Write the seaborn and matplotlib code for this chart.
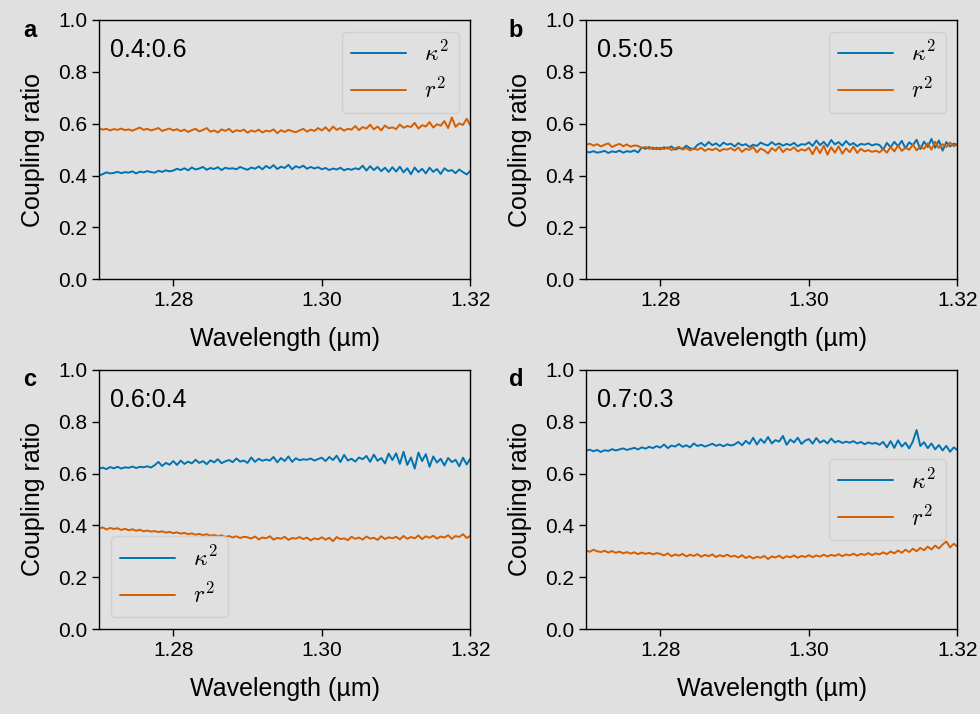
import matplotlib
matplotlib.use('Agg')
import numpy as np
import matplotlib.pyplot as plt
import seaborn as sns

# wavelength grid (um), 1.27 .. 1.32 in 0.0005 steps
wavelength = np.linspace(1.27, 1.32, 101)

# panel a, 0.4:0.6
a_kappa = [0.400, 0.405, 0.412, 0.408, 0.410, 0.414, 0.409, 0.413, 0.411, 0.416, 0.408, 0.415, 0.412, 0.417, 0.413, 0.411, 0.418, 0.414, 0.420, 0.416,
           0.419, 0.426, 0.421, 0.428, 0.420, 0.431, 0.423, 0.427, 0.433, 0.422, 0.429, 0.425, 0.432, 0.421, 0.430, 0.426, 0.428, 0.424, 0.433, 0.427,
           0.422, 0.431, 0.426, 0.435, 0.424, 0.437, 0.428, 0.440, 0.425, 0.434, 0.429, 0.441, 0.424, 0.436, 0.430, 0.438, 0.426, 0.433, 0.427, 0.432,
           0.424, 0.429, 0.421, 0.427, 0.423, 0.430, 0.420, 0.426, 0.422, 0.428, 0.424, 0.438, 0.419, 0.436, 0.421, 0.433, 0.417, 0.430, 0.414, 0.432,
           0.415, 0.434, 0.412, 0.428, 0.405, 0.431, 0.413, 0.426, 0.408, 0.430, 0.414, 0.425, 0.406, 0.428, 0.417, 0.421, 0.409, 0.423, 0.413, 0.404, 0.418]
a_r = [0.582, 0.577, 0.580, 0.574, 0.579, 0.576, 0.581, 0.575, 0.578, 0.573, 0.579, 0.585, 0.576, 0.580, 0.574, 0.578, 0.583, 0.572, 0.577, 0.581,
       0.574, 0.579, 0.571, 0.577, 0.568, 0.575, 0.580, 0.570, 0.576, 0.583, 0.569, 0.574, 0.566, 0.578, 0.572, 0.580, 0.567, 0.575, 0.571, 0.577,
       0.565, 0.574, 0.569, 0.577, 0.566, 0.573, 0.570, 0.578, 0.563, 0.575, 0.568, 0.576, 0.571, 0.567, 0.574, 0.580, 0.569, 0.577, 0.572, 0.583,
       0.574, 0.586, 0.571, 0.589, 0.576, 0.583, 0.573, 0.580, 0.577, 0.591, 0.575, 0.587, 0.581, 0.596, 0.578, 0.589, 0.574, 0.593, 0.582, 0.586,
       0.579, 0.597, 0.584, 0.591, 0.587, 0.603, 0.581, 0.594, 0.589, 0.606, 0.585, 0.598, 0.592, 0.610, 0.583, 0.624, 0.588, 0.601, 0.595, 0.619, 0.593]

# panel b, 0.5:0.5
b_kappa = [0.492, 0.489, 0.494, 0.488, 0.491, 0.495, 0.487, 0.493, 0.490, 0.496, 0.488, 0.494, 0.491, 0.497, 0.489, 0.508, 0.503, 0.510, 0.502, 0.507,
           0.501, 0.509, 0.504, 0.512, 0.500, 0.506, 0.503, 0.515, 0.505, 0.502, 0.518, 0.526, 0.514, 0.529, 0.517, 0.524, 0.513, 0.527, 0.519, 0.523,
           0.512, 0.525, 0.516, 0.521, 0.510, 0.519, 0.514, 0.527, 0.520, 0.516, 0.529, 0.518, 0.524, 0.515, 0.522, 0.517, 0.526, 0.513, 0.521, 0.519,
           0.528, 0.514, 0.535, 0.517, 0.530, 0.512, 0.537, 0.520, 0.529, 0.515, 0.533, 0.518, 0.525, 0.513, 0.522, 0.519, 0.524, 0.516, 0.521, 0.518,
           0.500, 0.526, 0.509, 0.530, 0.513, 0.534, 0.505, 0.528, 0.517, 0.538, 0.502, 0.531, 0.510, 0.541, 0.507, 0.535, 0.496, 0.529, 0.512, 0.523, 0.518]
b_r = [0.518, 0.523, 0.515, 0.521, 0.512, 0.519, 0.524, 0.510, 0.517, 0.522, 0.513, 0.520, 0.511, 0.516, 0.514, 0.506, 0.510, 0.503, 0.508, 0.501,
       0.507, 0.502, 0.509, 0.498, 0.505, 0.511, 0.500, 0.506, 0.497, 0.504, 0.499, 0.507, 0.495, 0.503, 0.498, 0.505, 0.494, 0.502, 0.500, 0.506,
       0.496, 0.508, 0.491, 0.503, 0.499, 0.510, 0.489, 0.504, 0.497, 0.485, 0.506, 0.495, 0.512, 0.490, 0.503, 0.498, 0.509, 0.493, 0.501, 0.496,
       0.507, 0.482, 0.511, 0.486, 0.515, 0.480, 0.509, 0.488, 0.513, 0.484, 0.505, 0.490, 0.512, 0.487, 0.503, 0.493, 0.498, 0.491, 0.496, 0.489,
       0.502, 0.488, 0.510, 0.493, 0.516, 0.495, 0.508, 0.499, 0.519, 0.497, 0.512, 0.503, 0.524, 0.500, 0.530, 0.506, 0.521, 0.510, 0.527, 0.513, 0.519]

# panel c, 0.6:0.4
c_kappa = [0.618, 0.623, 0.617, 0.625, 0.620, 0.626, 0.619, 0.624, 0.622, 0.627, 0.621, 0.626, 0.624, 0.628, 0.623, 0.632, 0.645, 0.629, 0.641, 0.634,
           0.648, 0.633, 0.650, 0.637, 0.646, 0.639, 0.653, 0.641, 0.648, 0.636, 0.651, 0.643, 0.655, 0.640, 0.647, 0.652, 0.644, 0.658, 0.646, 0.650,
           0.641, 0.662, 0.645, 0.657, 0.649, 0.654, 0.650, 0.664, 0.643, 0.660, 0.648, 0.666, 0.645, 0.659, 0.651, 0.655, 0.653, 0.658, 0.650, 0.656,
           0.661, 0.648, 0.664, 0.652, 0.669, 0.644, 0.672, 0.650, 0.657, 0.646, 0.662, 0.655, 0.668, 0.645, 0.673, 0.649, 0.660, 0.639, 0.677, 0.652,
           0.678, 0.637, 0.684, 0.633, 0.662, 0.619, 0.681, 0.648, 0.675, 0.626, 0.666, 0.642, 0.657, 0.631, 0.660, 0.644, 0.653, 0.628, 0.661, 0.635, 0.658]
c_r = [0.388, 0.392, 0.384, 0.390, 0.386, 0.389, 0.382, 0.387, 0.381, 0.385, 0.379, 0.383, 0.377, 0.380, 0.376, 0.378, 0.374, 0.377, 0.372, 0.375,
       0.370, 0.373, 0.368, 0.371, 0.366, 0.369, 0.364, 0.367, 0.362, 0.366, 0.360, 0.363, 0.358, 0.362, 0.355, 0.359, 0.353, 0.358, 0.351, 0.356,
       0.354, 0.349, 0.357, 0.346, 0.353, 0.350, 0.358, 0.345, 0.352, 0.348, 0.356, 0.344, 0.351, 0.349, 0.355, 0.347, 0.353, 0.342, 0.350, 0.346,
       0.354, 0.345, 0.352, 0.339, 0.355, 0.347, 0.350, 0.343, 0.356, 0.348, 0.353, 0.345, 0.357, 0.349, 0.352, 0.344, 0.358, 0.347, 0.354, 0.350,
       0.356, 0.346, 0.359, 0.348, 0.355, 0.350, 0.361, 0.347, 0.358, 0.352, 0.360, 0.349, 0.357, 0.353, 0.362, 0.348, 0.359, 0.355, 0.366, 0.351, 0.360]

# panel d, 0.7:0.3
d_kappa = [0.688, 0.692, 0.686, 0.691, 0.683, 0.690, 0.687, 0.694, 0.689, 0.693, 0.697, 0.691, 0.695, 0.699, 0.693, 0.701, 0.696, 0.703, 0.698, 0.706,
           0.700, 0.712, 0.698, 0.708, 0.704, 0.714, 0.703, 0.709, 0.701, 0.716, 0.706, 0.711, 0.704, 0.709, 0.715, 0.707, 0.712, 0.705, 0.713, 0.708,
           0.712, 0.722, 0.709, 0.726, 0.714, 0.738, 0.712, 0.733, 0.718, 0.741, 0.716, 0.729, 0.723, 0.745, 0.711, 0.731, 0.720, 0.738, 0.714, 0.727,
           0.733, 0.715, 0.737, 0.719, 0.728, 0.716, 0.735, 0.720, 0.726, 0.718, 0.723, 0.719, 0.725, 0.716, 0.722, 0.713, 0.720, 0.715, 0.718, 0.711,
           0.722, 0.701, 0.725, 0.699, 0.728, 0.704, 0.719, 0.697, 0.724, 0.768, 0.706, 0.721, 0.698, 0.716, 0.693, 0.710, 0.689, 0.707, 0.684, 0.701, 0.690]
d_r = [0.303, 0.298, 0.306, 0.300, 0.297, 0.302, 0.295, 0.301, 0.294, 0.299, 0.292, 0.297, 0.291, 0.296, 0.289, 0.295, 0.290, 0.294, 0.288, 0.293,
       0.290, 0.284, 0.292, 0.281, 0.288, 0.283, 0.290, 0.280, 0.287, 0.282, 0.289, 0.279, 0.286, 0.281, 0.288, 0.278, 0.285, 0.280, 0.287, 0.279,
       0.283, 0.276, 0.285, 0.274, 0.281, 0.272, 0.279, 0.275, 0.282, 0.270, 0.280, 0.276, 0.283, 0.273, 0.281, 0.277, 0.284, 0.275, 0.282, 0.278,
       0.285, 0.277, 0.284, 0.279, 0.287, 0.280, 0.286, 0.282, 0.289, 0.281, 0.288, 0.284, 0.291, 0.283, 0.290, 0.286, 0.293, 0.285, 0.292, 0.288,
       0.296, 0.289, 0.299, 0.292, 0.303, 0.294, 0.306, 0.297, 0.310, 0.300, 0.313, 0.304, 0.318, 0.307, 0.322, 0.311, 0.326, 0.338, 0.315, 0.329, 0.318]

panels = [
    ("a", "0.4:0.6", a_kappa, a_r, "upper right"),
    ("b", "0.5:0.5", b_kappa, b_r, "upper right"),
    ("c", "0.6:0.4", c_kappa, c_r, "lower left"),
    ("d", "0.7:0.3", d_kappa, d_r, "center right"),
]

bg = "#e0e0e0"
sns.set_theme(style="ticks", rc={"axes.facecolor": bg, "figure.facecolor": bg,
                                 "axes.edgecolor": "black", "xtick.color": "black",
                                 "ytick.color": "black", "axes.linewidth": 1.0,
                                 "text.color": "black", "axes.labelcolor": "black"})
plt.rcParams['font.family'] = ['Liberation Sans', 'DejaVu Sans']
plt.rcParams['mathtext.fontset'] = 'cm'
pal = sns.color_palette("colorblind")
blue, orange = pal[0], pal[3]

fig = plt.figure(figsize=(9.8, 7.14), dpi=100)
lefts = [0.101, 0.598]
bottoms = [0.609, 0.119]
w, h = 0.379, 0.363
letter_pos = [(0.024, 0.957), (0.519, 0.957), (0.024, 0.469), (0.519, 0.469)]

for k, (letter, ratio, kap, r, loc) in enumerate(panels):
    ax = fig.add_axes([lefts[k % 2], bottoms[k // 2], w, h])
    sns.lineplot(x=wavelength, y=kap, ax=ax, color=blue, linewidth=1.4, label=r'$\kappa^2$')
    sns.lineplot(x=wavelength, y=r, ax=ax, color=orange, linewidth=1.4, label=r'$r^2$')
    ax.set_xlim(1.27, 1.32)
    ax.set_ylim(0, 1)
    ax.set_xticks([1.28, 1.30, 1.32])
    ax.set_xticklabels(["1.28", "1.30", "1.32"])
    ax.set_yticks([0.0, 0.2, 0.4, 0.6, 0.8, 1.0])
    ax.set_yticklabels(["0.0", "0.2", "0.4", "0.6", "0.8", "1.0"])
    ax.tick_params(labelsize=15, length=5, width=1, labelcolor="black")
    ax.set_xlabel("Wavelength (µm)", fontsize=18, labelpad=12)
    ax.set_ylabel("Coupling ratio", fontsize=18, labelpad=9)
    for s in ax.spines.values():
        s.set_visible(True)
        s.set_color("black")
    ax.text(0.03, 0.93, ratio, transform=ax.transAxes, fontsize=18, va="top", ha="left")
    ax.legend(loc=loc, fontsize=17, handlelength=2.3)
    fig.text(letter_pos[k][0], letter_pos[k][1], letter, fontsize=17, fontweight="bold",
             ha="left", va="center")

fig.savefig("out.png", dpi=100, facecolor=bg)
